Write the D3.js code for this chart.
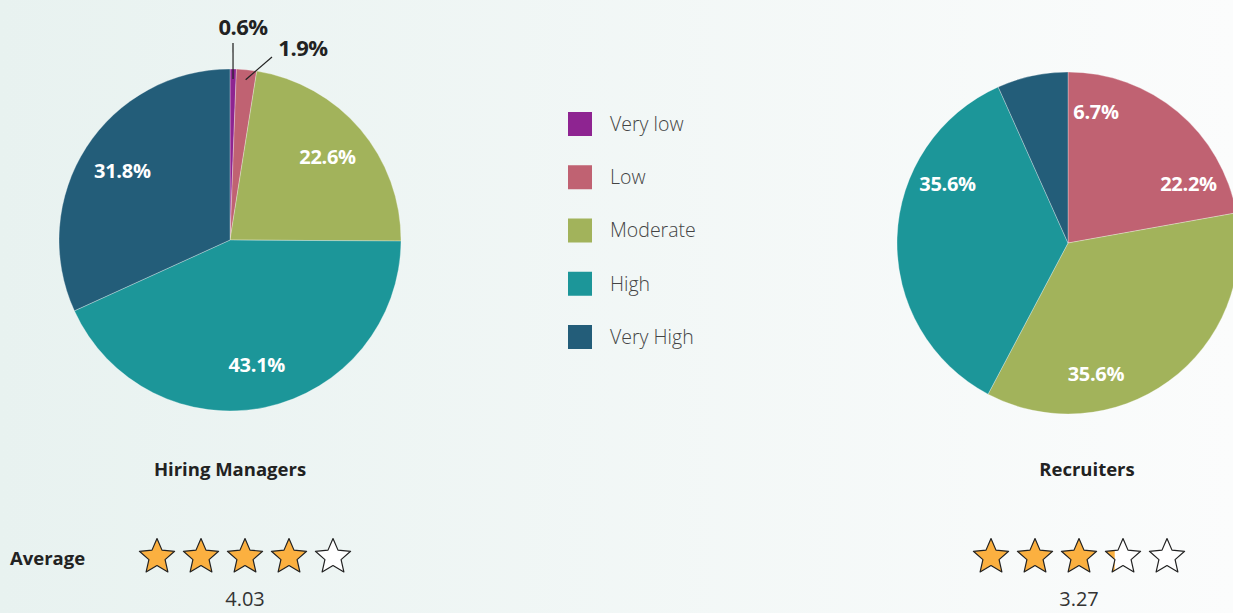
<!DOCTYPE html>
<html>
<head>
<meta charset="utf-8">
<script src="https://cdn.jsdelivr.net/npm/d3@7"></script>
<style>
  body { margin: 0; }
  svg { display: block; font-family: 'Open Sans', Lato, sans-serif; }
</style>
</head>
<body>
<script>
const levels = ['Very low', 'Low', 'Moderate', 'High', 'Very High']
const colors = ['#8e2491', '#c06272', '#a2b35b', '#1c9699', '#235d79']
const hiringManagers = [0.6, 1.9, 22.6, 43.1, 31.8]
const recruiters = [0, 22.2, 35.6, 35.6, 6.7]
const groups = ['Hiring Managers', 'Recruiters']
const averages = [4.03, 3.27]

const size = { width: 1233, height: 613 }
const radius = 171

const svg = d3.select('body')
  .append('svg')
  .attr('width', size.width)
  .attr('height', size.height)

const defs = svg.append('defs')
const grad = defs.append('linearGradient')
  .attr('id', 'bg')
  .attr('x1', 0).attr('x2', 1).attr('y1', 0).attr('y2', 0)
grad.append('stop').attr('offset', 0).attr('stop-color', '#e8f2f0')
grad.append('stop').attr('offset', 1).attr('stop-color', '#fbfcfc')

svg.append('rect')
  .attr('width', size.width)
  .attr('height', size.height)
  .attr('fill', 'url(#bg)')

const pie = d3.pie().sort(null).value(d => d)
const arc = d3.arc().innerRadius(0).outerRadius(radius)

// centre of each pie, label shift (fraction of a turn), title and star positions
const charts = [
  { values: hiringManagers, cx: 230, cy: 240, shift: 0, labelR: 128, titleX: 230, starX: 245 },
  { values: recruiters, cx: 1068, cy: 243, shift: 0.067, labelR: 134, titleX: 1087, starX: 1079 }
]

// outside labels for the thin slices (offsets from the pie centre)
const outside = {
  0: { line: [3, -197], text: [13, -213] },
  1: { line: [42, -183], text: [73, -192] }
}

charts.forEach((c, ci) => {
  const g = svg.append('g')
    .attr('transform', 'translate(' + c.cx + ',' + c.cy + ')')
  const arcs = pie(c.values)

  g.selectAll('path')
    .data(arcs)
    .enter()
    .append('path')
    .attr('d', arc)
    .attr('fill', (d, i) => colors[i])
    .attr('stroke', 'rgba(255,255,255,0.5)')
    .attr('stroke-width', 0.6)

  const labelArc = d3.arc().innerRadius(c.labelR).outerRadius(c.labelR)
  const shift = c.shift * 2 * Math.PI

  arcs.forEach((d, i) => {
    if (d.value <= 0) return
    if (d.value < 5) {
      const mid = (d.startAngle + d.endAngle) / 2
      const r0 = radius - 10
      const o = outside[i]
      g.append('line')
        .attr('x1', Math.sin(mid) * r0).attr('y1', -Math.cos(mid) * r0)
        .attr('x2', o.line[0]).attr('y2', o.line[1])
        .attr('stroke', '#222')
        .attr('stroke-width', 1.2)
      g.append('text')
        .attr('x', o.text[0])
        .attr('y', o.text[1])
        .attr('dy', '0.35em')
        .attr('text-anchor', 'middle')
        .style('font-size', '22px')
        .style('font-weight', 'bold')
        .style('letter-spacing', '-0.5px')
        .attr('fill', '#222')
        .text(d.value.toFixed(1) + '%')
      return
    }
    const p = labelArc.centroid({ startAngle: d.startAngle + shift, endAngle: d.endAngle + shift })
    g.append('text')
      .attr('x', p[0])
      .attr('y', p[1])
      .attr('dy', '0.35em')
      .attr('text-anchor', 'middle')
      .style('font-size', '20px')
      .style('font-weight', 'bold')
      .style('letter-spacing', '-0.3px')
      .attr('fill', '#fff')
      .text(d.value.toFixed(1) + '%')
  })

  svg.append('text')
    .attr('x', c.titleX)
    .attr('y', 476)
    .attr('text-anchor', 'middle')
    .style('font-size', '18.5px')
    .style('font-weight', 'bold')
    .attr('fill', '#222')
    .text(groups[ci])

  // stars
  const starScale = d3.scaleLinear().domain([0, 4]).range([c.starX - 88, c.starX + 88])
  const avg = averages[ci]
  const starPath = d3.lineRadial()
    .angle((d, i) => i * Math.PI / 5)
    .radius((d, i) => i % 2 === 0 ? 18.5 : 8.5)
    .curve(d3.curveLinearClosed)(d3.range(10))

  d3.range(5).forEach(k => {
    const sx = starScale(k)
    const sg = svg.append('g').attr('transform', 'translate(' + sx + ',557)')
    const fill = Math.max(0, Math.min(1, avg - k))
    sg.append('path').attr('d', starPath).attr('fill', '#fff')
    if (fill > 0) {
      const id = 'clip' + ci + '_' + k
      const w = 36
      defs.append('clipPath').attr('id', id)
        .append('rect')
        .attr('x', -w / 2).attr('y', -25)
        .attr('width', w * fill).attr('height', 50)
      sg.append('path')
        .attr('d', starPath)
        .attr('fill', '#fbb040')
        .attr('clip-path', 'url(#' + id + ')')
    }
    sg.append('path')
      .attr('d', starPath)
      .attr('fill', 'none')
      .attr('stroke', '#222')
      .attr('stroke-width', 1.2)
      .attr('stroke-linejoin', 'round')
  })

  svg.append('text')
    .attr('x', c.starX)
    .attr('y', 606)
    .attr('text-anchor', 'middle')
    .style('font-size', '20px')
    .attr('fill', '#333')
    .text(avg.toFixed(2))
})

svg.append('text')
  .attr('x', 10)
  .attr('y', 565)
  .style('font-size', '18.5px')
  .style('font-weight', 'bold')
  .attr('fill', '#222')
  .text('Average')

// legend
const legend = svg.append('g')
const ly = d3.scalePoint().domain(levels).range([124, 337])
levels.forEach((l, i) => {
  legend.append('rect')
    .attr('x', 568)
    .attr('y', ly(l) - 12)
    .attr('width', 24)
    .attr('height', 24)
    .attr('fill', colors[i])
  legend.append('text')
    .attr('x', 610)
    .attr('y', ly(l))
    .attr('dy', '0.35em')
    .style('font-size', '19.5px')
    .style('font-weight', 300)
    .attr('fill', '#444')
    .text(l)
})
</script>
</body>
</html>
